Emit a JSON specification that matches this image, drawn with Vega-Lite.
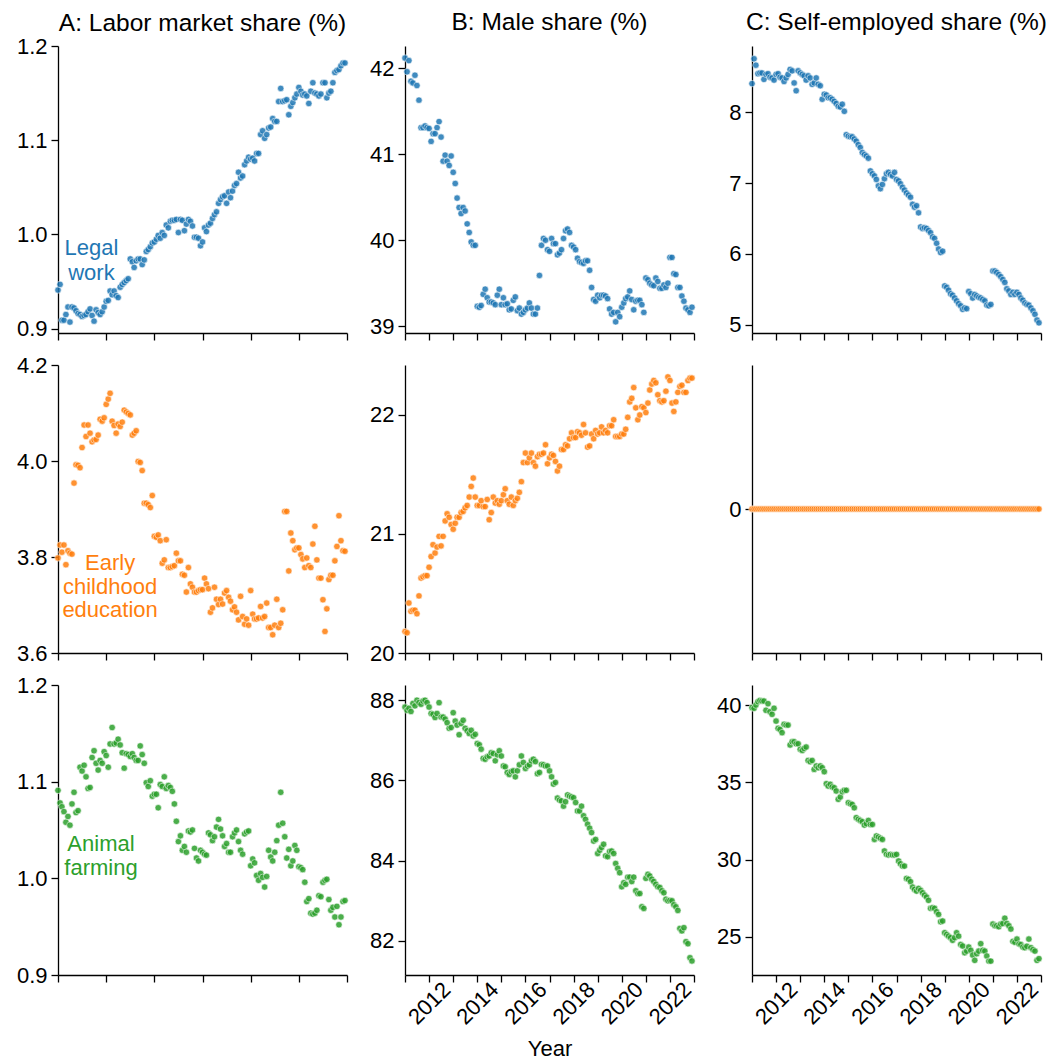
{
"$schema": "https://vega.github.io/schema/vega-lite/v6.json",
"background": "white",
"padding": {"left": 16, "top": 9, "right": 5, "bottom": 0},
"config": {
  "font": "Liberation Sans",
  "view": {"stroke": null},
  "axis": {"grid": false, "domainColor": "#000000", "domainWidth": 1.3, "tickColor": "#000000", "tickWidth": 1.3, "tickSize": 7, "labelFontSize": 22, "labelColor": "#000000", "labelPadding": 4, "titleFontSize": 22, "titleFontWeight": "normal", "titleColor": "#000000"},
  "title": {"fontSize": 24.5, "fontWeight": "normal", "color": "#000000", "anchor": "middle", "frame": "group", "baseline": "alphabetic", "offset": 11},
  "circle": {"size": 42, "stroke": "#ffffff", "strokeWidth": 0.6, "opacity": 0.85}
},
"datasets": {
"legal_labor": [
{"t":"2011-01","v":0.941},{"t":"2011-02","v":0.947},{"t":"2011-03","v":0.909},{"t":"2011-04","v":0.909},{"t":"2011-05","v":0.915},{"t":"2011-06","v":0.923},{"t":"2011-07","v":0.907},{"t":"2011-08","v":0.923},{"t":"2011-09","v":0.922},{"t":"2011-10","v":0.919},{"t":"2011-11","v":0.916},{"t":"2011-12","v":0.915},
{"t":"2012-01","v":0.913},{"t":"2012-02","v":0.914},{"t":"2012-03","v":0.915},{"t":"2012-04","v":0.918},{"t":"2012-05","v":0.921},{"t":"2012-06","v":0.914},{"t":"2012-07","v":0.908},{"t":"2012-08","v":0.920},{"t":"2012-09","v":0.917},{"t":"2012-10","v":0.915},{"t":"2012-11","v":0.918},{"t":"2012-12","v":0.923},
{"t":"2013-01","v":0.929},{"t":"2013-02","v":0.930},{"t":"2013-03","v":0.940},{"t":"2013-04","v":0.936},{"t":"2013-05","v":0.940},{"t":"2013-06","v":0.935},{"t":"2013-07","v":0.933},{"t":"2013-08","v":0.944},{"t":"2013-09","v":0.947},{"t":"2013-10","v":0.949},{"t":"2013-11","v":0.951},{"t":"2013-12","v":0.953},
{"t":"2014-01","v":0.974},{"t":"2014-02","v":0.971},{"t":"2014-03","v":0.965},{"t":"2014-04","v":0.972},{"t":"2014-05","v":0.974},{"t":"2014-06","v":0.974},{"t":"2014-07","v":0.968},{"t":"2014-08","v":0.973},{"t":"2014-09","v":0.982},{"t":"2014-10","v":0.984},{"t":"2014-11","v":0.987},{"t":"2014-12","v":0.991},
{"t":"2015-01","v":0.992},{"t":"2015-02","v":0.995},{"t":"2015-03","v":0.999},{"t":"2015-04","v":0.996},{"t":"2015-05","v":1.002},{"t":"2015-06","v":0.999},{"t":"2015-07","v":1.010},{"t":"2015-08","v":1.007},{"t":"2015-09","v":1.014},{"t":"2015-10","v":1.015},{"t":"2015-11","v":1.015},{"t":"2015-12","v":1.016},
{"t":"2016-01","v":1.002},{"t":"2016-02","v":1.016},{"t":"2016-03","v":1.015},{"t":"2016-04","v":1.004},{"t":"2016-05","v":1.011},{"t":"2016-06","v":1.016},{"t":"2016-07","v":1.014},{"t":"2016-08","v":1.009},{"t":"2016-09","v":0.997},{"t":"2016-10","v":0.997},{"t":"2016-11","v":0.996},{"t":"2016-12","v":0.988},
{"t":"2017-01","v":0.992},{"t":"2017-02","v":1.007},{"t":"2017-03","v":1.003},{"t":"2017-04","v":1.010},{"t":"2017-05","v":1.012},{"t":"2017-06","v":1.017},{"t":"2017-07","v":1.021},{"t":"2017-08","v":1.024},{"t":"2017-09","v":1.033},{"t":"2017-10","v":1.037},{"t":"2017-11","v":1.040},{"t":"2017-12","v":1.041},
{"t":"2018-01","v":1.033},{"t":"2018-02","v":1.045},{"t":"2018-03","v":1.039},{"t":"2018-04","v":1.046},{"t":"2018-05","v":1.052},{"t":"2018-06","v":1.054},{"t":"2018-07","v":1.066},{"t":"2018-08","v":1.060},{"t":"2018-09","v":1.062},{"t":"2018-10","v":1.074},{"t":"2018-11","v":1.078},{"t":"2018-12","v":1.082},
{"t":"2019-01","v":1.080},{"t":"2019-02","v":1.081},{"t":"2019-03","v":1.078},{"t":"2019-04","v":1.086},{"t":"2019-05","v":1.086},{"t":"2019-06","v":1.106},{"t":"2019-07","v":1.110},{"t":"2019-08","v":1.102},{"t":"2019-09","v":1.106},{"t":"2019-10","v":1.113},{"t":"2019-11","v":1.114},{"t":"2019-12","v":1.123},
{"t":"2020-01","v":1.120},{"t":"2020-02","v":1.120},{"t":"2020-03","v":1.141},{"t":"2020-04","v":1.155},{"t":"2020-05","v":1.141},{"t":"2020-06","v":1.142},{"t":"2020-07","v":1.143},{"t":"2020-08","v":1.127},{"t":"2020-09","v":1.136},{"t":"2020-10","v":1.140},{"t":"2020-11","v":1.145},{"t":"2020-12","v":1.149},
{"t":"2021-01","v":1.156},{"t":"2021-02","v":1.152},{"t":"2021-03","v":1.148},{"t":"2021-04","v":1.149},{"t":"2021-05","v":1.147},{"t":"2021-06","v":1.139},{"t":"2021-07","v":1.152},{"t":"2021-08","v":1.161},{"t":"2021-09","v":1.150},{"t":"2021-10","v":1.149},{"t":"2021-11","v":1.147},{"t":"2021-12","v":1.149},
{"t":"2022-01","v":1.161},{"t":"2022-02","v":1.161},{"t":"2022-03","v":1.145},{"t":"2022-04","v":1.150},{"t":"2022-05","v":1.152},{"t":"2022-06","v":1.161},{"t":"2022-07","v":1.172},{"t":"2022-08","v":1.174},{"t":"2022-09","v":1.175},{"t":"2022-10","v":1.179},{"t":"2022-11","v":1.182},{"t":"2022-12","v":1.182}
],
"legal_male": [
{"t":"2011-01","v":42.12},{"t":"2011-02","v":41.96},{"t":"2011-03","v":42.09},{"t":"2011-04","v":41.85},{"t":"2011-05","v":41.83},{"t":"2011-06","v":41.92},{"t":"2011-07","v":41.80},{"t":"2011-08","v":41.63},{"t":"2011-09","v":41.31},{"t":"2011-10","v":41.31},{"t":"2011-11","v":41.33},{"t":"2011-12","v":41.31},
{"t":"2012-01","v":41.30},{"t":"2012-02","v":41.15},{"t":"2012-03","v":41.24},{"t":"2012-04","v":41.24},{"t":"2012-05","v":41.31},{"t":"2012-06","v":41.38},{"t":"2012-07","v":41.20},{"t":"2012-08","v":40.92},{"t":"2012-09","v":40.99},{"t":"2012-10","v":40.92},{"t":"2012-11","v":40.87},{"t":"2012-12","v":40.98},
{"t":"2013-01","v":40.79},{"t":"2013-02","v":40.66},{"t":"2013-03","v":40.49},{"t":"2013-04","v":40.38},{"t":"2013-05","v":40.31},{"t":"2013-06","v":40.38},{"t":"2013-07","v":40.34},{"t":"2013-08","v":40.19},{"t":"2013-09","v":40.09},{"t":"2013-10","v":39.98},{"t":"2013-11","v":39.94},{"t":"2013-12","v":39.94},
{"t":"2014-01","v":39.23},{"t":"2014-02","v":39.22},{"t":"2014-03","v":39.24},{"t":"2014-04","v":39.37},{"t":"2014-05","v":39.43},{"t":"2014-06","v":39.33},{"t":"2014-07","v":39.28},{"t":"2014-08","v":39.28},{"t":"2014-09","v":39.27},{"t":"2014-10","v":39.25},{"t":"2014-11","v":39.36},{"t":"2014-12","v":39.43},
{"t":"2015-01","v":39.25},{"t":"2015-02","v":39.33},{"t":"2015-03","v":39.25},{"t":"2015-04","v":39.26},{"t":"2015-05","v":39.19},{"t":"2015-06","v":39.20},{"t":"2015-07","v":39.30},{"t":"2015-08","v":39.34},{"t":"2015-09","v":39.18},{"t":"2015-10","v":39.21},{"t":"2015-11","v":39.14},{"t":"2015-12","v":39.16},
{"t":"2016-01","v":39.19},{"t":"2016-02","v":39.21},{"t":"2016-03","v":39.27},{"t":"2016-04","v":39.21},{"t":"2016-05","v":39.14},{"t":"2016-06","v":39.14},{"t":"2016-07","v":39.21},{"t":"2016-08","v":39.59},{"t":"2016-09","v":39.94},{"t":"2016-10","v":40.02},{"t":"2016-11","v":40.00},{"t":"2016-12","v":39.89},
{"t":"2017-01","v":39.87},{"t":"2017-02","v":40.02},{"t":"2017-03","v":39.96},{"t":"2017-04","v":39.96},{"t":"2017-05","v":39.83},{"t":"2017-06","v":39.85},{"t":"2017-07","v":39.89},{"t":"2017-08","v":40.02},{"t":"2017-09","v":40.11},{"t":"2017-10","v":40.13},{"t":"2017-11","v":40.09},{"t":"2017-12","v":39.94},
{"t":"2018-01","v":39.92},{"t":"2018-02","v":39.89},{"t":"2018-03","v":39.79},{"t":"2018-04","v":39.75},{"t":"2018-05","v":39.74},{"t":"2018-06","v":39.73},{"t":"2018-07","v":39.76},{"t":"2018-08","v":39.76},{"t":"2018-09","v":39.65},{"t":"2018-10","v":39.45},{"t":"2018-11","v":39.31},{"t":"2018-12","v":39.29},
{"t":"2019-01","v":39.36},{"t":"2019-02","v":39.33},{"t":"2019-03","v":39.36},{"t":"2019-04","v":39.36},{"t":"2019-05","v":39.35},{"t":"2019-06","v":39.32},{"t":"2019-07","v":39.20},{"t":"2019-08","v":39.14},{"t":"2019-09","v":39.16},{"t":"2019-10","v":39.05},{"t":"2019-11","v":39.16},{"t":"2019-12","v":39.11},
{"t":"2020-01","v":39.22},{"t":"2020-02","v":39.27},{"t":"2020-03","v":39.32},{"t":"2020-04","v":39.34},{"t":"2020-05","v":39.41},{"t":"2020-06","v":39.31},{"t":"2020-07","v":39.19},{"t":"2020-08","v":39.29},{"t":"2020-09","v":39.30},{"t":"2020-10","v":39.30},{"t":"2020-11","v":39.25},{"t":"2020-12","v":39.16},
{"t":"2021-01","v":39.56},{"t":"2021-02","v":39.54},{"t":"2021-03","v":39.50},{"t":"2021-04","v":39.48},{"t":"2021-05","v":39.47},{"t":"2021-06","v":39.56},{"t":"2021-07","v":39.52},{"t":"2021-08","v":39.44},{"t":"2021-09","v":39.44},{"t":"2021-10","v":39.48},{"t":"2021-11","v":39.45},{"t":"2021-12","v":39.50},
{"t":"2022-01","v":39.80},{"t":"2022-02","v":39.80},{"t":"2022-03","v":39.61},{"t":"2022-04","v":39.60},{"t":"2022-05","v":39.45},{"t":"2022-06","v":39.45},{"t":"2022-07","v":39.35},{"t":"2022-08","v":39.29},{"t":"2022-09","v":39.21},{"t":"2022-10","v":39.19},{"t":"2022-11","v":39.16},{"t":"2022-12","v":39.22}
],
"legal_self": [
{"t":"2011-01","v":8.40},{"t":"2011-02","v":8.75},{"t":"2011-03","v":8.66},{"t":"2011-04","v":8.54},{"t":"2011-05","v":8.55},{"t":"2011-06","v":8.55},{"t":"2011-07","v":8.46},{"t":"2011-08","v":8.53},{"t":"2011-09","v":8.54},{"t":"2011-10","v":8.49},{"t":"2011-11","v":8.48},{"t":"2011-12","v":8.45},
{"t":"2012-01","v":8.53},{"t":"2012-02","v":8.54},{"t":"2012-03","v":8.49},{"t":"2012-04","v":8.48},{"t":"2012-05","v":8.43},{"t":"2012-06","v":8.48},{"t":"2012-07","v":8.53},{"t":"2012-08","v":8.60},{"t":"2012-09","v":8.58},{"t":"2012-10","v":8.41},{"t":"2012-11","v":8.30},{"t":"2012-12","v":8.58},
{"t":"2013-01","v":8.55},{"t":"2013-02","v":8.53},{"t":"2013-03","v":8.51},{"t":"2013-04","v":8.45},{"t":"2013-05","v":8.51},{"t":"2013-06","v":8.48},{"t":"2013-07","v":8.39},{"t":"2013-08","v":8.41},{"t":"2013-09","v":8.48},{"t":"2013-10","v":8.39},{"t":"2013-11","v":8.37},{"t":"2013-12","v":8.18},
{"t":"2014-01","v":8.25},{"t":"2014-02","v":8.24},{"t":"2014-03","v":8.20},{"t":"2014-04","v":8.20},{"t":"2014-05","v":8.18},{"t":"2014-06","v":8.15},{"t":"2014-07","v":8.12},{"t":"2014-08","v":8.08},{"t":"2014-09","v":8.07},{"t":"2014-10","v":8.11},{"t":"2014-11","v":8.01},{"t":"2014-12","v":7.68},
{"t":"2015-01","v":7.66},{"t":"2015-02","v":7.65},{"t":"2015-03","v":7.65},{"t":"2015-04","v":7.62},{"t":"2015-05","v":7.59},{"t":"2015-06","v":7.54},{"t":"2015-07","v":7.50},{"t":"2015-08","v":7.43},{"t":"2015-09","v":7.40},{"t":"2015-10","v":7.38},{"t":"2015-11","v":7.35},{"t":"2015-12","v":7.17},
{"t":"2016-01","v":7.13},{"t":"2016-02","v":7.10},{"t":"2016-03","v":7.05},{"t":"2016-04","v":6.96},{"t":"2016-05","v":6.92},{"t":"2016-06","v":6.98},{"t":"2016-07","v":7.06},{"t":"2016-08","v":7.13},{"t":"2016-09","v":7.15},{"t":"2016-10","v":7.12},{"t":"2016-11","v":7.10},{"t":"2016-12","v":7.15},
{"t":"2017-01","v":7.05},{"t":"2017-02","v":7.03},{"t":"2017-03","v":6.99},{"t":"2017-04","v":6.94},{"t":"2017-05","v":6.90},{"t":"2017-06","v":6.86},{"t":"2017-07","v":6.83},{"t":"2017-08","v":6.80},{"t":"2017-09","v":6.70},{"t":"2017-10","v":6.66},{"t":"2017-11","v":6.68},{"t":"2017-12","v":6.58},
{"t":"2018-01","v":6.38},{"t":"2018-02","v":6.36},{"t":"2018-03","v":6.37},{"t":"2018-04","v":6.36},{"t":"2018-05","v":6.33},{"t":"2018-06","v":6.30},{"t":"2018-07","v":6.24},{"t":"2018-08","v":6.22},{"t":"2018-09","v":6.15},{"t":"2018-10","v":6.07},{"t":"2018-11","v":6.02},{"t":"2018-12","v":6.04},
{"t":"2019-01","v":5.55},{"t":"2019-02","v":5.53},{"t":"2019-03","v":5.49},{"t":"2019-04","v":5.44},{"t":"2019-05","v":5.42},{"t":"2019-06","v":5.38},{"t":"2019-07","v":5.34},{"t":"2019-08","v":5.30},{"t":"2019-09","v":5.27},{"t":"2019-10","v":5.22},{"t":"2019-11","v":5.24},{"t":"2019-12","v":5.23},
{"t":"2020-01","v":5.47},{"t":"2020-02","v":5.44},{"t":"2020-03","v":5.38},{"t":"2020-04","v":5.43},{"t":"2020-05","v":5.41},{"t":"2020-06","v":5.39},{"t":"2020-07","v":5.38},{"t":"2020-08","v":5.36},{"t":"2020-09","v":5.34},{"t":"2020-10","v":5.28},{"t":"2020-11","v":5.27},{"t":"2020-12","v":5.29},
{"t":"2021-01","v":5.76},{"t":"2021-02","v":5.76},{"t":"2021-03","v":5.74},{"t":"2021-04","v":5.71},{"t":"2021-05","v":5.68},{"t":"2021-06","v":5.64},{"t":"2021-07","v":5.60},{"t":"2021-08","v":5.51},{"t":"2021-09","v":5.48},{"t":"2021-10","v":5.43},{"t":"2021-11","v":5.46},{"t":"2021-12","v":5.43},
{"t":"2022-01","v":5.46},{"t":"2022-02","v":5.43},{"t":"2022-03","v":5.38},{"t":"2022-04","v":5.35},{"t":"2022-05","v":5.31},{"t":"2022-06","v":5.29},{"t":"2022-07","v":5.28},{"t":"2022-08","v":5.24},{"t":"2022-09","v":5.20},{"t":"2022-10","v":5.15},{"t":"2022-11","v":5.07},{"t":"2022-12","v":5.03}
],
"child_labor": [
{"t":"2011-01","v":3.798},{"t":"2011-02","v":3.825},{"t":"2011-03","v":3.810},{"t":"2011-04","v":3.825},{"t":"2011-05","v":3.784},{"t":"2011-06","v":3.813},{"t":"2011-07","v":3.808},{"t":"2011-08","v":3.806},{"t":"2011-09","v":3.954},{"t":"2011-10","v":3.992},{"t":"2011-11","v":3.991},{"t":"2011-12","v":3.986},
{"t":"2012-01","v":4.028},{"t":"2012-02","v":4.075},{"t":"2012-03","v":4.051},{"t":"2012-04","v":4.075},{"t":"2012-05","v":4.058},{"t":"2012-06","v":4.040},{"t":"2012-07","v":4.044},{"t":"2012-08","v":4.045},{"t":"2012-09","v":4.054},{"t":"2012-10","v":4.087},{"t":"2012-11","v":4.083},{"t":"2012-12","v":4.090},
{"t":"2013-01","v":4.118},{"t":"2013-02","v":4.129},{"t":"2013-03","v":4.141},{"t":"2013-04","v":4.083},{"t":"2013-05","v":4.074},{"t":"2013-06","v":4.058},{"t":"2013-07","v":4.077},{"t":"2013-08","v":4.072},{"t":"2013-09","v":4.081},{"t":"2013-10","v":4.106},{"t":"2013-11","v":4.102},{"t":"2013-12","v":4.099},
{"t":"2014-01","v":4.096},{"t":"2014-02","v":4.054},{"t":"2014-03","v":4.058},{"t":"2014-04","v":4.063},{"t":"2014-05","v":3.999},{"t":"2014-06","v":3.997},{"t":"2014-07","v":3.980},{"t":"2014-08","v":3.912},{"t":"2014-09","v":3.912},{"t":"2014-10","v":3.909},{"t":"2014-11","v":3.903},{"t":"2014-12","v":3.928},
{"t":"2015-01","v":3.843},{"t":"2015-02","v":3.841},{"t":"2015-03","v":3.846},{"t":"2015-04","v":3.834},{"t":"2015-05","v":3.787},{"t":"2015-06","v":3.794},{"t":"2015-07","v":3.836},{"t":"2015-08","v":3.778},{"t":"2015-09","v":3.778},{"t":"2015-10","v":3.780},{"t":"2015-11","v":3.782},{"t":"2015-12","v":3.808},
{"t":"2016-01","v":3.792},{"t":"2016-02","v":3.792},{"t":"2016-03","v":3.764},{"t":"2016-04","v":3.762},{"t":"2016-05","v":3.727},{"t":"2016-06","v":3.778},{"t":"2016-07","v":3.744},{"t":"2016-08","v":3.737},{"t":"2016-09","v":3.727},{"t":"2016-10","v":3.727},{"t":"2016-11","v":3.730},{"t":"2016-12","v":3.732},
{"t":"2017-01","v":3.732},{"t":"2017-02","v":3.756},{"t":"2017-03","v":3.744},{"t":"2017-04","v":3.734},{"t":"2017-05","v":3.685},{"t":"2017-06","v":3.694},{"t":"2017-07","v":3.737},{"t":"2017-08","v":3.712},{"t":"2017-09","v":3.701},{"t":"2017-10","v":3.712},{"t":"2017-11","v":3.702},{"t":"2017-12","v":3.725},
{"t":"2018-01","v":3.730},{"t":"2018-02","v":3.716},{"t":"2018-03","v":3.708},{"t":"2018-04","v":3.690},{"t":"2018-05","v":3.696},{"t":"2018-06","v":3.685},{"t":"2018-07","v":3.669},{"t":"2018-08","v":3.718},{"t":"2018-09","v":3.676},{"t":"2018-10","v":3.660},{"t":"2018-11","v":3.671},{"t":"2018-12","v":3.658},
{"t":"2019-01","v":3.730},{"t":"2019-02","v":3.681},{"t":"2019-03","v":3.671},{"t":"2019-04","v":3.671},{"t":"2019-05","v":3.673},{"t":"2019-06","v":3.697},{"t":"2019-07","v":3.673},{"t":"2019-08","v":3.676},{"t":"2019-09","v":3.704},{"t":"2019-10","v":3.653},{"t":"2019-11","v":3.653},{"t":"2019-12","v":3.638},
{"t":"2020-01","v":3.658},{"t":"2020-02","v":3.712},{"t":"2020-03","v":3.653},{"t":"2020-04","v":3.662},{"t":"2020-05","v":3.690},{"t":"2020-06","v":3.895},{"t":"2020-07","v":3.895},{"t":"2020-08","v":3.771},{"t":"2020-09","v":3.850},{"t":"2020-10","v":3.834},{"t":"2020-11","v":3.815},{"t":"2020-12","v":3.819},
{"t":"2021-01","v":3.819},{"t":"2021-02","v":3.805},{"t":"2021-03","v":3.796},{"t":"2021-04","v":3.778},{"t":"2021-05","v":3.798},{"t":"2021-06","v":3.782},{"t":"2021-07","v":3.778},{"t":"2021-08","v":3.827},{"t":"2021-09","v":3.864},{"t":"2021-10","v":3.794},{"t":"2021-11","v":3.756},{"t":"2021-12","v":3.756},
{"t":"2022-01","v":3.711},{"t":"2022-02","v":3.645},{"t":"2022-03","v":3.692},{"t":"2022-04","v":3.753},{"t":"2022-05","v":3.762},{"t":"2022-06","v":3.762},{"t":"2022-07","v":3.792},{"t":"2022-08","v":3.822},{"t":"2022-09","v":3.886},{"t":"2022-10","v":3.834},{"t":"2022-11","v":3.813},{"t":"2022-12","v":3.812}
],
"child_male": [
{"t":"2011-01","v":20.18},{"t":"2011-02","v":20.17},{"t":"2011-03","v":20.42},{"t":"2011-04","v":20.35},{"t":"2011-05","v":20.36},{"t":"2011-06","v":20.36},{"t":"2011-07","v":20.33},{"t":"2011-08","v":20.48},{"t":"2011-09","v":20.63},{"t":"2011-10","v":20.64},{"t":"2011-11","v":20.65},{"t":"2011-12","v":20.65},
{"t":"2012-01","v":20.72},{"t":"2012-02","v":20.81},{"t":"2012-03","v":20.91},{"t":"2012-04","v":20.84},{"t":"2012-05","v":20.89},{"t":"2012-06","v":20.98},{"t":"2012-07","v":20.90},{"t":"2012-08","v":20.98},{"t":"2012-09","v":21.11},{"t":"2012-10","v":21.17},{"t":"2012-11","v":21.14},{"t":"2012-12","v":21.08},
{"t":"2013-01","v":21.04},{"t":"2013-02","v":21.09},{"t":"2013-03","v":21.14},{"t":"2013-04","v":21.14},{"t":"2013-05","v":21.18},{"t":"2013-06","v":21.19},{"t":"2013-07","v":21.22},{"t":"2013-08","v":21.24},{"t":"2013-09","v":21.31},{"t":"2013-10","v":21.40},{"t":"2013-11","v":21.47},{"t":"2013-12","v":21.31},
{"t":"2014-01","v":21.24},{"t":"2014-02","v":21.24},{"t":"2014-03","v":21.28},{"t":"2014-04","v":21.23},{"t":"2014-05","v":21.23},{"t":"2014-06","v":21.29},{"t":"2014-07","v":21.12},{"t":"2014-08","v":21.18},{"t":"2014-09","v":21.31},{"t":"2014-10","v":21.26},{"t":"2014-11","v":21.28},{"t":"2014-12","v":21.25},
{"t":"2015-01","v":21.28},{"t":"2015-02","v":21.33},{"t":"2015-03","v":21.38},{"t":"2015-04","v":21.28},{"t":"2015-05","v":21.25},{"t":"2015-06","v":21.31},{"t":"2015-07","v":21.24},{"t":"2015-08","v":21.28},{"t":"2015-09","v":21.30},{"t":"2015-10","v":21.35},{"t":"2015-11","v":21.44},{"t":"2015-12","v":21.60},
{"t":"2016-01","v":21.68},{"t":"2016-02","v":21.60},{"t":"2016-03","v":21.64},{"t":"2016-04","v":21.68},{"t":"2016-05","v":21.60},{"t":"2016-06","v":21.57},{"t":"2016-07","v":21.65},{"t":"2016-08","v":21.67},{"t":"2016-09","v":21.67},{"t":"2016-10","v":21.68},{"t":"2016-11","v":21.75},{"t":"2016-12","v":21.59},
{"t":"2017-01","v":21.64},{"t":"2017-02","v":21.67},{"t":"2017-03","v":21.66},{"t":"2017-04","v":21.61},{"t":"2017-05","v":21.53},{"t":"2017-06","v":21.57},{"t":"2017-07","v":21.71},{"t":"2017-08","v":21.71},{"t":"2017-09","v":21.75},{"t":"2017-10","v":21.74},{"t":"2017-11","v":21.80},{"t":"2017-12","v":21.85},
{"t":"2018-01","v":21.81},{"t":"2018-02","v":21.81},{"t":"2018-03","v":21.86},{"t":"2018-04","v":21.85},{"t":"2018-05","v":21.83},{"t":"2018-06","v":21.92},{"t":"2018-07","v":21.85},{"t":"2018-08","v":21.73},{"t":"2018-09","v":21.74},{"t":"2018-10","v":21.84},{"t":"2018-11","v":21.80},{"t":"2018-12","v":21.87},
{"t":"2019-01","v":21.84},{"t":"2019-02","v":21.85},{"t":"2019-03","v":21.90},{"t":"2019-04","v":21.85},{"t":"2019-05","v":21.87},{"t":"2019-06","v":21.85},{"t":"2019-07","v":21.91},{"t":"2019-08","v":21.91},{"t":"2019-09","v":21.96},{"t":"2019-10","v":21.82},{"t":"2019-11","v":21.82},{"t":"2019-12","v":21.82},
{"t":"2020-01","v":21.84},{"t":"2020-02","v":21.84},{"t":"2020-03","v":21.88},{"t":"2020-04","v":21.98},{"t":"2020-05","v":22.11},{"t":"2020-06","v":22.14},{"t":"2020-07","v":22.23},{"t":"2020-08","v":22.06},{"t":"2020-09","v":21.96},{"t":"2020-10","v":22.00},{"t":"2020-11","v":22.07},{"t":"2020-12","v":22.06},
{"t":"2021-01","v":22.02},{"t":"2021-02","v":22.10},{"t":"2021-03","v":22.21},{"t":"2021-04","v":22.26},{"t":"2021-05","v":22.29},{"t":"2021-06","v":22.27},{"t":"2021-07","v":22.17},{"t":"2021-08","v":22.12},{"t":"2021-09","v":22.11},{"t":"2021-10","v":22.12},{"t":"2021-11","v":22.20},{"t":"2021-12","v":22.32},
{"t":"2022-01","v":22.29},{"t":"2022-02","v":22.10},{"t":"2022-03","v":22.03},{"t":"2022-04","v":22.11},{"t":"2022-05","v":22.19},{"t":"2022-06","v":22.24},{"t":"2022-07","v":22.25},{"t":"2022-08","v":22.19},{"t":"2022-09","v":22.19},{"t":"2022-10","v":22.29},{"t":"2022-11","v":22.31},{"t":"2022-12","v":22.31}
],
"child_self": [
{"t":"2011-01","v":0},{"t":"2011-02","v":0},{"t":"2011-03","v":0},{"t":"2011-04","v":0},{"t":"2011-05","v":0},{"t":"2011-06","v":0},{"t":"2011-07","v":0},{"t":"2011-08","v":0},{"t":"2011-09","v":0},{"t":"2011-10","v":0},{"t":"2011-11","v":0},{"t":"2011-12","v":0},
{"t":"2012-01","v":0},{"t":"2012-02","v":0},{"t":"2012-03","v":0},{"t":"2012-04","v":0},{"t":"2012-05","v":0},{"t":"2012-06","v":0},{"t":"2012-07","v":0},{"t":"2012-08","v":0},{"t":"2012-09","v":0},{"t":"2012-10","v":0},{"t":"2012-11","v":0},{"t":"2012-12","v":0},
{"t":"2013-01","v":0},{"t":"2013-02","v":0},{"t":"2013-03","v":0},{"t":"2013-04","v":0},{"t":"2013-05","v":0},{"t":"2013-06","v":0},{"t":"2013-07","v":0},{"t":"2013-08","v":0},{"t":"2013-09","v":0},{"t":"2013-10","v":0},{"t":"2013-11","v":0},{"t":"2013-12","v":0},
{"t":"2014-01","v":0},{"t":"2014-02","v":0},{"t":"2014-03","v":0},{"t":"2014-04","v":0},{"t":"2014-05","v":0},{"t":"2014-06","v":0},{"t":"2014-07","v":0},{"t":"2014-08","v":0},{"t":"2014-09","v":0},{"t":"2014-10","v":0},{"t":"2014-11","v":0},{"t":"2014-12","v":0},
{"t":"2015-01","v":0},{"t":"2015-02","v":0},{"t":"2015-03","v":0},{"t":"2015-04","v":0},{"t":"2015-05","v":0},{"t":"2015-06","v":0},{"t":"2015-07","v":0},{"t":"2015-08","v":0},{"t":"2015-09","v":0},{"t":"2015-10","v":0},{"t":"2015-11","v":0},{"t":"2015-12","v":0},
{"t":"2016-01","v":0},{"t":"2016-02","v":0},{"t":"2016-03","v":0},{"t":"2016-04","v":0},{"t":"2016-05","v":0},{"t":"2016-06","v":0},{"t":"2016-07","v":0},{"t":"2016-08","v":0},{"t":"2016-09","v":0},{"t":"2016-10","v":0},{"t":"2016-11","v":0},{"t":"2016-12","v":0},
{"t":"2017-01","v":0},{"t":"2017-02","v":0},{"t":"2017-03","v":0},{"t":"2017-04","v":0},{"t":"2017-05","v":0},{"t":"2017-06","v":0},{"t":"2017-07","v":0},{"t":"2017-08","v":0},{"t":"2017-09","v":0},{"t":"2017-10","v":0},{"t":"2017-11","v":0},{"t":"2017-12","v":0},
{"t":"2018-01","v":0},{"t":"2018-02","v":0},{"t":"2018-03","v":0},{"t":"2018-04","v":0},{"t":"2018-05","v":0},{"t":"2018-06","v":0},{"t":"2018-07","v":0},{"t":"2018-08","v":0},{"t":"2018-09","v":0},{"t":"2018-10","v":0},{"t":"2018-11","v":0},{"t":"2018-12","v":0},
{"t":"2019-01","v":0},{"t":"2019-02","v":0},{"t":"2019-03","v":0},{"t":"2019-04","v":0},{"t":"2019-05","v":0},{"t":"2019-06","v":0},{"t":"2019-07","v":0},{"t":"2019-08","v":0},{"t":"2019-09","v":0},{"t":"2019-10","v":0},{"t":"2019-11","v":0},{"t":"2019-12","v":0},
{"t":"2020-01","v":0},{"t":"2020-02","v":0},{"t":"2020-03","v":0},{"t":"2020-04","v":0},{"t":"2020-05","v":0},{"t":"2020-06","v":0},{"t":"2020-07","v":0},{"t":"2020-08","v":0},{"t":"2020-09","v":0},{"t":"2020-10","v":0},{"t":"2020-11","v":0},{"t":"2020-12","v":0},
{"t":"2021-01","v":0},{"t":"2021-02","v":0},{"t":"2021-03","v":0},{"t":"2021-04","v":0},{"t":"2021-05","v":0},{"t":"2021-06","v":0},{"t":"2021-07","v":0},{"t":"2021-08","v":0},{"t":"2021-09","v":0},{"t":"2021-10","v":0},{"t":"2021-11","v":0},{"t":"2021-12","v":0},
{"t":"2022-01","v":0},{"t":"2022-02","v":0},{"t":"2022-03","v":0},{"t":"2022-04","v":0},{"t":"2022-05","v":0},{"t":"2022-06","v":0},{"t":"2022-07","v":0},{"t":"2022-08","v":0},{"t":"2022-09","v":0},{"t":"2022-10","v":0},{"t":"2022-11","v":0},{"t":"2022-12","v":0}
],
"farm_labor": [
{"t":"2011-01","v":1.091},{"t":"2011-02","v":1.078},{"t":"2011-03","v":1.074},{"t":"2011-04","v":1.069},{"t":"2011-05","v":1.058},{"t":"2011-06","v":1.064},{"t":"2011-07","v":1.055},{"t":"2011-08","v":1.077},{"t":"2011-09","v":1.089},{"t":"2011-10","v":1.068},{"t":"2011-11","v":1.070},{"t":"2011-12","v":1.115},
{"t":"2012-01","v":1.111},{"t":"2012-02","v":1.117},{"t":"2012-03","v":1.105},{"t":"2012-04","v":1.093},{"t":"2012-05","v":1.094},{"t":"2012-06","v":1.125},{"t":"2012-07","v":1.132},{"t":"2012-08","v":1.119},{"t":"2012-09","v":1.112},{"t":"2012-10","v":1.122},{"t":"2012-11","v":1.119},{"t":"2012-12","v":1.131},
{"t":"2013-01","v":1.127},{"t":"2013-02","v":1.115},{"t":"2013-03","v":1.139},{"t":"2013-04","v":1.156},{"t":"2013-05","v":1.139},{"t":"2013-06","v":1.140},{"t":"2013-07","v":1.144},{"t":"2013-08","v":1.138},{"t":"2013-09","v":1.130},{"t":"2013-10","v":1.114},{"t":"2013-11","v":1.129},{"t":"2013-12","v":1.128},
{"t":"2014-01","v":1.126},{"t":"2014-02","v":1.129},{"t":"2014-03","v":1.125},{"t":"2014-04","v":1.122},{"t":"2014-05","v":1.122},{"t":"2014-06","v":1.137},{"t":"2014-07","v":1.128},{"t":"2014-08","v":1.119},{"t":"2014-09","v":1.099},{"t":"2014-10","v":1.095},{"t":"2014-11","v":1.101},{"t":"2014-12","v":1.085},
{"t":"2015-01","v":1.087},{"t":"2015-02","v":1.087},{"t":"2015-03","v":1.073},{"t":"2015-04","v":1.097},{"t":"2015-05","v":1.095},{"t":"2015-06","v":1.105},{"t":"2015-07","v":1.093},{"t":"2015-08","v":1.096},{"t":"2015-09","v":1.094},{"t":"2015-10","v":1.090},{"t":"2015-11","v":1.077},{"t":"2015-12","v":1.059},
{"t":"2016-01","v":1.038},{"t":"2016-02","v":1.044},{"t":"2016-03","v":1.029},{"t":"2016-04","v":1.033},{"t":"2016-05","v":1.027},{"t":"2016-06","v":1.049},{"t":"2016-07","v":1.048},{"t":"2016-08","v":1.050},{"t":"2016-09","v":1.031},{"t":"2016-10","v":1.021},{"t":"2016-11","v":1.018},{"t":"2016-12","v":1.029},
{"t":"2017-01","v":1.027},{"t":"2017-02","v":1.025},{"t":"2017-03","v":1.024},{"t":"2017-04","v":1.047},{"t":"2017-05","v":1.045},{"t":"2017-06","v":1.039},{"t":"2017-07","v":1.043},{"t":"2017-08","v":1.053},{"t":"2017-09","v":1.061},{"t":"2017-10","v":1.051},{"t":"2017-11","v":1.044},{"t":"2017-12","v":1.033},
{"t":"2018-01","v":1.036},{"t":"2018-02","v":1.027},{"t":"2018-03","v":1.027},{"t":"2018-04","v":1.043},{"t":"2018-05","v":1.047},{"t":"2018-06","v":1.050},{"t":"2018-07","v":1.038},{"t":"2018-08","v":1.029},{"t":"2018-09","v":1.025},{"t":"2018-10","v":1.046},{"t":"2018-11","v":1.048},{"t":"2018-12","v":1.049},
{"t":"2019-01","v":1.013},{"t":"2019-02","v":1.020},{"t":"2019-03","v":1.016},{"t":"2019-04","v":1.003},{"t":"2019-05","v":0.998},{"t":"2019-06","v":1.005},{"t":"2019-07","v":1.001},{"t":"2019-08","v":0.991},{"t":"2019-09","v":1.002},{"t":"2019-10","v":1.029},{"t":"2019-11","v":1.022},{"t":"2019-12","v":1.018},
{"t":"2020-01","v":1.027},{"t":"2020-02","v":1.039},{"t":"2020-03","v":1.055},{"t":"2020-04","v":1.089},{"t":"2020-05","v":1.057},{"t":"2020-06","v":1.043},{"t":"2020-07","v":1.021},{"t":"2020-08","v":1.030},{"t":"2020-09","v":1.013},{"t":"2020-10","v":1.018},{"t":"2020-11","v":1.034},{"t":"2020-12","v":1.029},
{"t":"2021-01","v":1.012},{"t":"2021-02","v":1.011},{"t":"2021-03","v":1.009},{"t":"2021-04","v":0.996},{"t":"2021-05","v":0.976},{"t":"2021-06","v":0.979},{"t":"2021-07","v":0.964},{"t":"2021-08","v":0.963},{"t":"2021-09","v":0.964},{"t":"2021-10","v":0.967},{"t":"2021-11","v":0.982},{"t":"2021-12","v":0.981},
{"t":"2022-01","v":0.996},{"t":"2022-02","v":0.998},{"t":"2022-03","v":0.999},{"t":"2022-04","v":0.978},{"t":"2022-05","v":0.967},{"t":"2022-06","v":0.970},{"t":"2022-07","v":0.960},{"t":"2022-08","v":0.971},{"t":"2022-09","v":0.952},{"t":"2022-10","v":0.960},{"t":"2022-11","v":0.976},{"t":"2022-12","v":0.977}
],
"farm_male": [
{"t":"2011-01","v":87.83},{"t":"2011-02","v":87.75},{"t":"2011-03","v":87.80},{"t":"2011-04","v":87.72},{"t":"2011-05","v":87.92},{"t":"2011-06","v":87.86},{"t":"2011-07","v":88.00},{"t":"2011-08","v":87.94},{"t":"2011-09","v":87.90},{"t":"2011-10","v":87.98},{"t":"2011-11","v":88.00},{"t":"2011-12","v":87.94},
{"t":"2012-01","v":87.83},{"t":"2012-02","v":87.67},{"t":"2012-03","v":87.65},{"t":"2012-04","v":87.57},{"t":"2012-05","v":87.67},{"t":"2012-06","v":87.94},{"t":"2012-07","v":87.58},{"t":"2012-08","v":87.58},{"t":"2012-09","v":87.53},{"t":"2012-10","v":87.44},{"t":"2012-11","v":87.30},{"t":"2012-12","v":87.32},
{"t":"2013-01","v":87.69},{"t":"2013-02","v":87.48},{"t":"2013-03","v":87.38},{"t":"2013-04","v":87.14},{"t":"2013-05","v":87.42},{"t":"2013-06","v":87.50},{"t":"2013-07","v":87.30},{"t":"2013-08","v":87.24},{"t":"2013-09","v":87.17},{"t":"2013-10","v":87.25},{"t":"2013-11","v":87.11},{"t":"2013-12","v":87.15},
{"t":"2014-01","v":86.92},{"t":"2014-02","v":86.89},{"t":"2014-03","v":86.78},{"t":"2014-04","v":86.55},{"t":"2014-05","v":86.53},{"t":"2014-06","v":86.59},{"t":"2014-07","v":86.61},{"t":"2014-08","v":86.69},{"t":"2014-09","v":86.67},{"t":"2014-10","v":86.49},{"t":"2014-11","v":86.64},{"t":"2014-12","v":86.74},
{"t":"2015-01","v":86.61},{"t":"2015-02","v":86.36},{"t":"2015-03","v":86.34},{"t":"2015-04","v":86.20},{"t":"2015-05","v":86.15},{"t":"2015-06","v":86.22},{"t":"2015-07","v":86.24},{"t":"2015-08","v":86.09},{"t":"2015-09","v":86.24},{"t":"2015-10","v":86.39},{"t":"2015-11","v":86.61},{"t":"2015-12","v":86.45},
{"t":"2016-01","v":86.30},{"t":"2016-02","v":86.36},{"t":"2016-03","v":86.39},{"t":"2016-04","v":86.49},{"t":"2016-05","v":86.53},{"t":"2016-06","v":86.47},{"t":"2016-07","v":86.17},{"t":"2016-08","v":86.20},{"t":"2016-09","v":86.40},{"t":"2016-10","v":86.39},{"t":"2016-11","v":86.36},{"t":"2016-12","v":86.36},
{"t":"2017-01","v":86.24},{"t":"2017-02","v":86.09},{"t":"2017-03","v":85.91},{"t":"2017-04","v":85.95},{"t":"2017-05","v":85.56},{"t":"2017-06","v":85.51},{"t":"2017-07","v":85.49},{"t":"2017-08","v":85.36},{"t":"2017-09","v":85.47},{"t":"2017-10","v":85.64},{"t":"2017-11","v":85.61},{"t":"2017-12","v":85.59},
{"t":"2018-01","v":85.57},{"t":"2018-02","v":85.45},{"t":"2018-03","v":85.24},{"t":"2018-04","v":85.24},{"t":"2018-05","v":85.36},{"t":"2018-06","v":85.12},{"t":"2018-07","v":85.03},{"t":"2018-08","v":84.91},{"t":"2018-09","v":84.81},{"t":"2018-10","v":84.70},{"t":"2018-11","v":84.49},{"t":"2018-12","v":84.53},
{"t":"2019-01","v":84.18},{"t":"2019-02","v":84.26},{"t":"2019-03","v":84.33},{"t":"2019-04","v":84.41},{"t":"2019-05","v":84.12},{"t":"2019-06","v":84.10},{"t":"2019-07","v":84.23},{"t":"2019-08","v":84.24},{"t":"2019-09","v":84.18},{"t":"2019-10","v":83.93},{"t":"2019-11","v":83.81},{"t":"2019-12","v":83.70},
{"t":"2020-01","v":83.35},{"t":"2020-02","v":83.45},{"t":"2020-03","v":83.41},{"t":"2020-04","v":83.59},{"t":"2020-05","v":83.59},{"t":"2020-06","v":83.48},{"t":"2020-07","v":83.59},{"t":"2020-08","v":83.25},{"t":"2020-09","v":83.18},{"t":"2020-10","v":83.18},{"t":"2020-11","v":82.85},{"t":"2020-12","v":82.81},
{"t":"2021-01","v":83.56},{"t":"2021-02","v":83.66},{"t":"2021-03","v":83.62},{"t":"2021-04","v":83.54},{"t":"2021-05","v":83.48},{"t":"2021-06","v":83.41},{"t":"2021-07","v":83.35},{"t":"2021-08","v":83.33},{"t":"2021-09","v":83.25},{"t":"2021-10","v":83.20},{"t":"2021-11","v":83.04},{"t":"2021-12","v":83.00},
{"t":"2022-01","v":83.01},{"t":"2022-02","v":83.00},{"t":"2022-03","v":82.90},{"t":"2022-04","v":82.85},{"t":"2022-05","v":82.76},{"t":"2022-06","v":82.31},{"t":"2022-07","v":82.25},{"t":"2022-08","v":82.33},{"t":"2022-09","v":81.98},{"t":"2022-10","v":81.93},{"t":"2022-11","v":81.58},{"t":"2022-12","v":81.50}
],
"farm_self": [
{"t":"2011-01","v":39.85},{"t":"2011-02","v":39.81},{"t":"2011-03","v":40.02},{"t":"2011-04","v":40.24},{"t":"2011-05","v":40.32},{"t":"2011-06","v":40.28},{"t":"2011-07","v":40.28},{"t":"2011-08","v":39.68},{"t":"2011-09","v":40.11},{"t":"2011-10","v":39.59},{"t":"2011-11","v":39.42},{"t":"2011-12","v":39.81},
{"t":"2012-01","v":38.98},{"t":"2012-02","v":38.51},{"t":"2012-03","v":38.44},{"t":"2012-04","v":38.23},{"t":"2012-05","v":38.77},{"t":"2012-06","v":38.72},{"t":"2012-07","v":38.72},{"t":"2012-08","v":37.43},{"t":"2012-09","v":37.64},{"t":"2012-10","v":37.64},{"t":"2012-11","v":37.51},{"t":"2012-12","v":37.51},
{"t":"2013-01","v":37.15},{"t":"2013-02","v":37.08},{"t":"2013-03","v":37.21},{"t":"2013-04","v":37.30},{"t":"2013-05","v":36.43},{"t":"2013-06","v":36.35},{"t":"2013-07","v":36.43},{"t":"2013-08","v":35.85},{"t":"2013-09","v":36.07},{"t":"2013-10","v":35.96},{"t":"2013-11","v":36.07},{"t":"2013-12","v":35.96},
{"t":"2014-01","v":35.70},{"t":"2014-02","v":34.92},{"t":"2014-03","v":34.77},{"t":"2014-04","v":34.88},{"t":"2014-05","v":34.71},{"t":"2014-06","v":34.66},{"t":"2014-07","v":34.45},{"t":"2014-08","v":33.91},{"t":"2014-09","v":34.06},{"t":"2014-10","v":34.40},{"t":"2014-11","v":34.49},{"t":"2014-12","v":34.49},
{"t":"2015-01","v":33.69},{"t":"2015-02","v":33.62},{"t":"2015-03","v":33.58},{"t":"2015-04","v":33.36},{"t":"2015-05","v":32.72},{"t":"2015-06","v":32.61},{"t":"2015-07","v":32.54},{"t":"2015-08","v":32.46},{"t":"2015-09","v":32.24},{"t":"2015-10","v":32.33},{"t":"2015-11","v":32.54},{"t":"2015-12","v":32.28},
{"t":"2016-01","v":32.28},{"t":"2016-02","v":31.31},{"t":"2016-03","v":31.53},{"t":"2016-04","v":31.46},{"t":"2016-05","v":31.38},{"t":"2016-06","v":31.31},{"t":"2016-07","v":30.56},{"t":"2016-08","v":30.34},{"t":"2016-09","v":30.30},{"t":"2016-10","v":30.34},{"t":"2016-11","v":30.30},{"t":"2016-12","v":30.30},
{"t":"2017-01","v":30.34},{"t":"2017-02","v":29.91},{"t":"2017-03","v":29.73},{"t":"2017-04","v":29.58},{"t":"2017-05","v":29.58},{"t":"2017-06","v":28.78},{"t":"2017-07","v":28.72},{"t":"2017-08","v":28.57},{"t":"2017-09","v":28.22},{"t":"2017-10","v":28.07},{"t":"2017-11","v":27.96},{"t":"2017-12","v":28.13},
{"t":"2018-01","v":28.01},{"t":"2018-02","v":27.85},{"t":"2018-03","v":27.70},{"t":"2018-04","v":27.57},{"t":"2018-05","v":27.36},{"t":"2018-06","v":26.84},{"t":"2018-07","v":26.88},{"t":"2018-08","v":26.84},{"t":"2018-09","v":26.62},{"t":"2018-10","v":26.45},{"t":"2018-11","v":25.97},{"t":"2018-12","v":26.02},
{"t":"2019-01","v":25.26},{"t":"2019-02","v":25.15},{"t":"2019-03","v":25.04},{"t":"2019-04","v":24.94},{"t":"2019-05","v":24.77},{"t":"2019-06","v":24.94},{"t":"2019-07","v":25.26},{"t":"2019-08","v":25.04},{"t":"2019-09","v":24.50},{"t":"2019-10","v":24.40},{"t":"2019-11","v":23.96},{"t":"2019-12","v":24.07},
{"t":"2020-01","v":24.33},{"t":"2020-02","v":24.12},{"t":"2020-03","v":23.81},{"t":"2020-04","v":23.47},{"t":"2020-05","v":23.90},{"t":"2020-06","v":24.07},{"t":"2020-07","v":24.55},{"t":"2020-08","v":24.12},{"t":"2020-09","v":24.07},{"t":"2020-10","v":23.75},{"t":"2020-11","v":23.42},{"t":"2020-12","v":23.42},
{"t":"2021-01","v":25.82},{"t":"2021-02","v":25.71},{"t":"2021-03","v":25.71},{"t":"2021-04","v":25.65},{"t":"2021-05","v":25.82},{"t":"2021-06","v":25.86},{"t":"2021-07","v":26.20},{"t":"2021-08","v":25.86},{"t":"2021-09","v":25.71},{"t":"2021-10","v":25.50},{"t":"2021-11","v":24.70},{"t":"2021-12","v":24.64},
{"t":"2022-01","v":24.85},{"t":"2022-02","v":24.53},{"t":"2022-03","v":24.49},{"t":"2022-04","v":24.33},{"t":"2022-05","v":24.29},{"t":"2022-06","v":24.38},{"t":"2022-07","v":24.85},{"t":"2022-08","v":24.29},{"t":"2022-09","v":24.16},{"t":"2022-10","v":24.07},{"t":"2022-11","v":23.47},{"t":"2022-12","v":23.58}
]
},
"columns": 3,
"spacing": {"row": 32, "column": 58},
"bounds": "flush",
"concat": [
  {"width": 289, "height": 287, "title": {"text": "A: Labor market share (%)", "offset": -1}, "data": {"name": "legal_labor"},
   "layer": [
    {"mark": {"type": "circle", "fill": "#1f77b4"},
     "encoding": {
      "x": {"field": "t", "type": "temporal", "title": null, "scale": {"type": "utc", "domain": [{"year": 2011, "utc": true}, {"year": 2023, "utc": true}]}, "axis": {"values": [{"year": 2011, "utc": true}, {"year": 2012, "utc": true}, {"year": 2013, "utc": true}, {"year": 2014, "utc": true}, {"year": 2015, "utc": true}, {"year": 2016, "utc": true}, {"year": 2017, "utc": true}, {"year": 2018, "utc": true}, {"year": 2019, "utc": true}, {"year": 2020, "utc": true}, {"year": 2021, "utc": true}, {"year": 2022, "utc": true}, {"year": 2023, "utc": true}], "labels": false}},
      "y": {"field": "v", "type": "quantitative", "title": null, "scale": {"domain": [0.8954, 1.2], "nice": false, "zero": false}, "axis": {"values": [0.9, 1.0, 1.1, 1.2], "format": ".1f"}}}},
    {"data": {"values": [{}]},
     "mark": {"type": "text", "text": ["Legal", "work"], "fontSize": 22, "fill": "#1f77b4", "align": "center", "baseline": "alphabetic", "lineHeight": 25},
     "encoding": {"x": {"datum": {"year": 2012, "month": 5, "date": 22, "utc": true}, "type": "temporal"}, "y": {"datum": 0.978, "type": "quantitative"}}}
   ]},
  {"width": 289, "height": 287, "title": "B: Male share (%)", "data": {"name": "legal_male"},
   "mark": {"type": "circle", "fill": "#1f77b4"},
   "encoding": {
    "x": {"field": "t", "type": "temporal", "title": null, "scale": {"type": "utc", "domain": [{"year": 2011, "utc": true}, {"year": 2023, "utc": true}]}, "axis": {"values": [{"year": 2011, "utc": true}, {"year": 2012, "utc": true}, {"year": 2013, "utc": true}, {"year": 2014, "utc": true}, {"year": 2015, "utc": true}, {"year": 2016, "utc": true}, {"year": 2017, "utc": true}, {"year": 2018, "utc": true}, {"year": 2019, "utc": true}, {"year": 2020, "utc": true}, {"year": 2021, "utc": true}, {"year": 2022, "utc": true}, {"year": 2023, "utc": true}], "labels": false}},
    "y": {"field": "v", "type": "quantitative", "title": null, "scale": {"domain": [38.92, 42.26], "nice": false, "zero": false}, "axis": {"values": [39, 40, 41, 42], "format": "d"}}}},
  {"width": 289, "height": 287, "title": "C: Self-employed share (%)", "data": {"name": "legal_self"},
   "mark": {"type": "circle", "fill": "#1f77b4"},
   "encoding": {
    "x": {"field": "t", "type": "temporal", "title": null, "scale": {"type": "utc", "domain": [{"year": 2011, "utc": true}, {"year": 2023, "utc": true}]}, "axis": {"values": [{"year": 2011, "utc": true}, {"year": 2012, "utc": true}, {"year": 2013, "utc": true}, {"year": 2014, "utc": true}, {"year": 2015, "utc": true}, {"year": 2016, "utc": true}, {"year": 2017, "utc": true}, {"year": 2018, "utc": true}, {"year": 2019, "utc": true}, {"year": 2020, "utc": true}, {"year": 2021, "utc": true}, {"year": 2022, "utc": true}, {"year": 2023, "utc": true}], "labels": false}},
    "y": {"field": "v", "type": "quantitative", "title": null, "scale": {"domain": [4.887, 8.93], "nice": false, "zero": false}, "axis": {"values": [5, 6, 7, 8], "format": "d"}}}},
  {"width": 289, "height": 288, "data": {"name": "child_labor"},
   "layer": [
    {"mark": {"type": "circle", "fill": "#ff7f0e"},
     "encoding": {
      "x": {"field": "t", "type": "temporal", "title": null, "scale": {"type": "utc", "domain": [{"year": 2011, "utc": true}, {"year": 2023, "utc": true}]}, "axis": {"values": [{"year": 2011, "utc": true}, {"year": 2012, "utc": true}, {"year": 2013, "utc": true}, {"year": 2014, "utc": true}, {"year": 2015, "utc": true}, {"year": 2016, "utc": true}, {"year": 2017, "utc": true}, {"year": 2018, "utc": true}, {"year": 2019, "utc": true}, {"year": 2020, "utc": true}, {"year": 2021, "utc": true}, {"year": 2022, "utc": true}, {"year": 2023, "utc": true}], "labels": false}},
      "y": {"field": "v", "type": "quantitative", "title": null, "scale": {"domain": [3.6, 4.2], "nice": false, "zero": false}, "axis": {"values": [3.6, 3.8, 4.0, 4.2], "format": ".1f"}}}},
    {"data": {"values": [{}]},
     "mark": {"type": "text", "text": ["Early", "childhood", "education"], "fontSize": 22, "fill": "#ff7f0e", "align": "center", "baseline": "alphabetic", "lineHeight": 23.5},
     "encoding": {"x": {"datum": {"year": 2013, "month": 3, "date": 1, "utc": true}, "type": "temporal"}, "y": {"datum": 3.772, "type": "quantitative"}}}
   ]},
  {"width": 289, "height": 288, "data": {"name": "child_male"},
   "mark": {"type": "circle", "fill": "#ff7f0e"},
   "encoding": {
    "x": {"field": "t", "type": "temporal", "title": null, "scale": {"type": "utc", "domain": [{"year": 2011, "utc": true}, {"year": 2023, "utc": true}]}, "axis": {"values": [{"year": 2011, "utc": true}, {"year": 2012, "utc": true}, {"year": 2013, "utc": true}, {"year": 2014, "utc": true}, {"year": 2015, "utc": true}, {"year": 2016, "utc": true}, {"year": 2017, "utc": true}, {"year": 2018, "utc": true}, {"year": 2019, "utc": true}, {"year": 2020, "utc": true}, {"year": 2021, "utc": true}, {"year": 2022, "utc": true}, {"year": 2023, "utc": true}], "labels": false}},
    "y": {"field": "v", "type": "quantitative", "title": null, "scale": {"domain": [20, 22.42], "nice": false, "zero": false}, "axis": {"values": [20, 21, 22], "format": "d"}}}},
  {"width": 289, "height": 288, "data": {"name": "child_self"},
   "mark": {"type": "circle", "fill": "#ff7f0e"},
   "encoding": {
    "x": {"field": "t", "type": "temporal", "title": null, "scale": {"type": "utc", "domain": [{"year": 2011, "utc": true}, {"year": 2023, "utc": true}]}, "axis": {"values": [{"year": 2011, "utc": true}, {"year": 2012, "utc": true}, {"year": 2013, "utc": true}, {"year": 2014, "utc": true}, {"year": 2015, "utc": true}, {"year": 2016, "utc": true}, {"year": 2017, "utc": true}, {"year": 2018, "utc": true}, {"year": 2019, "utc": true}, {"year": 2020, "utc": true}, {"year": 2021, "utc": true}, {"year": 2022, "utc": true}, {"year": 2023, "utc": true}], "labels": false}},
    "y": {"field": "v", "type": "quantitative", "title": null, "scale": {"domain": [-0.055, 0.055], "nice": false, "zero": false}, "axis": {"values": [0], "format": "d"}}}},
  {"width": 289, "height": 290, "data": {"name": "farm_labor"},
   "layer": [
    {"mark": {"type": "circle", "fill": "#2ca02c"},
     "encoding": {
      "x": {"field": "t", "type": "temporal", "title": null, "scale": {"type": "utc", "domain": [{"year": 2011, "utc": true}, {"year": 2023, "utc": true}]}, "axis": {"values": [{"year": 2011, "utc": true}, {"year": 2012, "utc": true}, {"year": 2013, "utc": true}, {"year": 2014, "utc": true}, {"year": 2015, "utc": true}, {"year": 2016, "utc": true}, {"year": 2017, "utc": true}, {"year": 2018, "utc": true}, {"year": 2019, "utc": true}, {"year": 2020, "utc": true}, {"year": 2021, "utc": true}, {"year": 2022, "utc": true}, {"year": 2023, "utc": true}], "labelExpr": "utcyear(datum.value) % 2 == 0 ? utcFormat(datum.value, '%Y') : ''", "labelAngle": -45, "labelAlign": "center", "labelBaseline": "middle", "labelPadding": 21, "labelOverlap": false, "labelFlush": false, "labelBound": false}},
      "y": {"field": "v", "type": "quantitative", "title": null, "scale": {"domain": [0.9, 1.2], "nice": false, "zero": false}, "axis": {"values": [0.9, 1.0, 1.1, 1.2], "format": ".1f"}}}},
    {"data": {"values": [{}]},
     "mark": {"type": "text", "text": ["Animal", "farming"], "fontSize": 22, "fill": "#2ca02c", "align": "center", "baseline": "alphabetic", "lineHeight": 24},
     "encoding": {"x": {"datum": {"year": 2012, "month": 10, "date": 14, "utc": true}, "type": "temporal"}, "y": {"datum": 1.028, "type": "quantitative"}}}
   ]},
  {"width": 289, "height": 290, "data": {"name": "farm_male"},
   "mark": {"type": "circle", "fill": "#2ca02c"},
   "encoding": {
    "x": {"field": "t", "type": "temporal", "title": "Year", "scale": {"type": "utc", "domain": [{"year": 2011, "utc": true}, {"year": 2023, "utc": true}]}, "axis": {"values": [{"year": 2011, "utc": true}, {"year": 2012, "utc": true}, {"year": 2013, "utc": true}, {"year": 2014, "utc": true}, {"year": 2015, "utc": true}, {"year": 2016, "utc": true}, {"year": 2017, "utc": true}, {"year": 2018, "utc": true}, {"year": 2019, "utc": true}, {"year": 2020, "utc": true}, {"year": 2021, "utc": true}, {"year": 2022, "utc": true}, {"year": 2023, "utc": true}], "labelExpr": "utcyear(datum.value) % 2 == 0 ? utcFormat(datum.value, '%Y') : ''", "labelAngle": -45, "labelAlign": "center", "labelBaseline": "middle", "labelPadding": 21, "labelOverlap": false, "labelFlush": false, "labelBound": false, "titlePadding": 10}},
    "y": {"field": "v", "type": "quantitative", "title": null, "scale": {"domain": [81.15, 88.38], "nice": false, "zero": false}, "axis": {"values": [82, 84, 86, 88], "format": "d"}}}},
  {"width": 289, "height": 290, "data": {"name": "farm_self"},
   "mark": {"type": "circle", "fill": "#2ca02c"},
   "encoding": {
    "x": {"field": "t", "type": "temporal", "title": null, "scale": {"type": "utc", "domain": [{"year": 2011, "utc": true}, {"year": 2023, "utc": true}]}, "axis": {"values": [{"year": 2011, "utc": true}, {"year": 2012, "utc": true}, {"year": 2013, "utc": true}, {"year": 2014, "utc": true}, {"year": 2015, "utc": true}, {"year": 2016, "utc": true}, {"year": 2017, "utc": true}, {"year": 2018, "utc": true}, {"year": 2019, "utc": true}, {"year": 2020, "utc": true}, {"year": 2021, "utc": true}, {"year": 2022, "utc": true}, {"year": 2023, "utc": true}], "labelExpr": "utcyear(datum.value) % 2 == 0 ? utcFormat(datum.value, '%Y') : ''", "labelAngle": -45, "labelAlign": "center", "labelBaseline": "middle", "labelPadding": 21, "labelOverlap": false, "labelFlush": false, "labelBound": false}},
    "y": {"field": "v", "type": "quantitative", "title": null, "scale": {"domain": [22.52, 41.32], "nice": false, "zero": false}, "axis": {"values": [25, 30, 35, 40], "format": "d"}}}}
]
}
